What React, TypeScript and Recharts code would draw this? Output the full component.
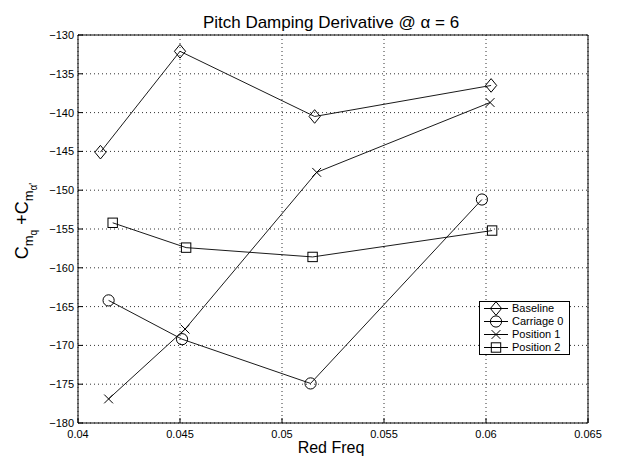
import { LineChart, Line, XAxis, YAxis, CartesianGrid, Legend, Customized } from "recharts";

// reduced frequency / damping values read per configuration
const seriesNames = ["Baseline", "Carriage 0", "Position 1", "Position 2"];
const baselineFreq = [0.0411, 0.045, 0.0516, 0.06025];
const baselineVal = [-145.1, -132.1, -140.5, -136.5];
const carriageFreq = [0.0415, 0.0451, 0.0514, 0.0598];
const carriageVal = [-164.2, -169.2, -174.9, -151.2];
const pos1Freq = [0.0415, 0.04525, 0.0517, 0.0602];
const pos1Val = [-176.9, -167.9, -147.7, -138.7];
const pos2Freq = [0.0417, 0.0453, 0.0515, 0.0603];
const pos2Val = [-154.2, -157.4, -158.6, -155.2];

const xTicks = [0.04, 0.045, 0.05, 0.055, 0.06, 0.065];
const yTicks = [-180, -175, -170, -165, -160, -155, -150, -145, -140, -135, -130];

const FONT = "'Liberation Sans', Arial, Helvetica, sans-serif";
const INK = "#000";

const zip = (xs: number[], ys: number[]) => xs.map((x, i) => ({ x, y: ys[i] }));

const baselineData = zip(baselineFreq, baselineVal);
const carriageData = zip(carriageFreq, carriageVal);
const pos1Data = zip(pos1Freq, pos1Val);
const pos2Data = zip(pos2Freq, pos2Val);

const fmtY = (v: number) => (v < 0 ? "\u2212" + Math.abs(v) : String(v));

const Marker = ({ kind, cx, cy }: { kind: number; cx: number; cy: number }) => {
  const common = { fill: "none", stroke: INK, strokeWidth: 1 };
  if (kind === 0)
    return <path d={`M${cx},${cy - 6.8}L${cx + 5.6},${cy}L${cx},${cy + 6.8}L${cx - 5.6},${cy}Z`} {...common} />;
  if (kind === 1) return <circle cx={cx} cy={cy} r={5.6} {...common} />;
  if (kind === 2)
    return <path d={`M${cx - 4.4},${cy - 4.4}L${cx + 4.4},${cy + 4.4}M${cx - 4.4},${cy + 4.4}L${cx + 4.4},${cy - 4.4}`} {...common} />;
  return <rect x={cx - 4.7} y={cy - 4.7} width={9.4} height={9.4} {...common} />;
};

const dotFor = (kind: number) => (p: any) => (
  <g key={`m-${kind}-${p.index}`}>
    <Marker kind={kind} cx={p.cx} cy={p.cy} />
  </g>
);

const BottomTick = ({ x, y, payload }: any) => (
  <g>
    <line x1={x} x2={x} y1={y} y2={y - 5} stroke={INK} />
    <text x={x} y={y + 15} textAnchor="middle" fontSize={11} fontFamily={FONT} fill={INK}>
      {payload.value}
    </text>
  </g>
);

const TopTick = ({ x, y }: any) => <line x1={x} x2={x} y1={y} y2={y + 5} stroke={INK} />;

const LeftTick = ({ x, y, payload }: any) => (
  <g>
    <line x1={x} x2={x + 5} y1={y} y2={y} stroke={INK} />
    <text x={x - 4} y={y} dy="0.36em" textAnchor="end" fontSize={11} fontFamily={FONT} fill={INK}>
      {fmtY(payload.value)}
    </text>
  </g>
);

const RightTick = ({ x, y }: any) => <line x1={x} x2={x - 5} y1={y} y2={y} stroke={INK} />;

const Labels = () => (
  <g fontFamily={FONT} fill={INK}>
    <text x={331} y={28} textAnchor="middle" fontSize={17}>
      Pitch Damping Derivative @ {"\u03b1"} = 6
    </text>
    <text x={331} y={453} textAnchor="middle" fontSize={16}>
      Red Freq
    </text>
    <text transform="translate(28,221) rotate(-90)" textAnchor="middle" fontSize={18}>
      C
      <tspan fontSize={13} dy={5}>m</tspan>
      <tspan fontSize={10} dy={4}>q</tspan>
      <tspan fontSize={18} dy={-9}> +C</tspan>
      <tspan fontSize={13} dy={5}>m</tspan>
      <tspan fontSize={10} dy={4}>{"\u03b1'"}</tspan>
    </text>
  </g>
);

const LegendBox = () => (
  <div
    style={{
      border: "1px solid #000",
      background: "#fff",
      width: 89,
      fontFamily: FONT,
      fontSize: 11,
      lineHeight: "13px",
      color: INK,
    }}
  >
    {seriesNames.map((name, i) => (
      <div key={name} style={{ display: "flex", alignItems: "center", height: 13 }}>
        <svg width={30} height={13} style={{ marginLeft: 2, overflow: "visible" }}>
          <line x1={2} x2={26} y1={6.5} y2={6.5} stroke={INK} />
          <Marker kind={i} cx={14} cy={6.5} />
        </svg>
        <span style={{ whiteSpace: "nowrap" }}>{name}</span>
      </div>
    ))}
  </div>
);

export default function App() {
  return (
    <div style={{ position: "absolute", left: 0, top: 0 }}>
      <LineChart width={621} height={460} margin={{ top: 34, right: 32, bottom: 7, left: 18 }}>
        <CartesianGrid stroke="#333" strokeDasharray="1 3" strokeWidth={1} />
        <XAxis
          dataKey="x"
          type="number"
          domain={[0.04, 0.065]}
          ticks={xTicks}
          interval={0}
          allowDataOverflow
          height={30}
          tickSize={0}
          tickMargin={0}
          tick={<BottomTick />}
          axisLine={{ stroke: INK }}
        />
        <XAxis
          xAxisId="top"
          orientation="top"
          dataKey="x"
          type="number"
          domain={[0.04, 0.065]}
          ticks={xTicks}
          interval={0}
          height={1}
          tickSize={0}
          tickMargin={0}
          tick={<TopTick />}
          axisLine={{ stroke: INK }}
        />
        <YAxis
          type="number"
          domain={[-180, -130]}
          ticks={yTicks}
          interval={0}
          allowDataOverflow
          width={60}
          tickSize={0}
          tickMargin={0}
          tick={<LeftTick />}
          axisLine={{ stroke: INK }}
        />
        <YAxis
          yAxisId="right"
          orientation="right"
          type="number"
          domain={[-180, -130]}
          ticks={yTicks}
          interval={0}
          width={1}
          tickSize={0}
          tickMargin={0}
          tick={<RightTick />}
          axisLine={{ stroke: INK }}
        />
        <Line data={baselineData} dataKey="y" name={seriesNames[0]} stroke={INK} strokeWidth={0.9} dot={dotFor(0)} activeDot={false} isAnimationActive={false} />
        <Line data={carriageData} dataKey="y" name={seriesNames[1]} stroke={INK} strokeWidth={0.9} dot={dotFor(1)} activeDot={false} isAnimationActive={false} />
        <Line data={pos1Data} dataKey="y" name={seriesNames[2]} stroke={INK} strokeWidth={0.9} dot={dotFor(2)} activeDot={false} isAnimationActive={false} />
        <Line data={pos2Data} dataKey="y" name={seriesNames[3]} stroke={INK} strokeWidth={0.9} dot={dotFor(3)} activeDot={false} isAnimationActive={false} />
        <Legend
          layout="vertical"
          verticalAlign="middle"
          align="center"
          content={<LegendBox />}
          wrapperStyle={{ left: 479, top: 301, width: 91, height: 52 }}
        />
        <Customized component={<Labels />} />
      </LineChart>
    </div>
  );
}
